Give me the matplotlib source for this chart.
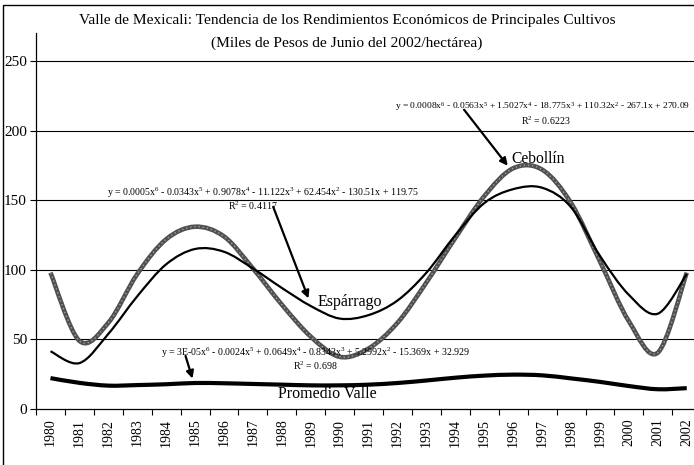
import matplotlib
matplotlib.use("Agg")
import matplotlib.pyplot as plt
from matplotlib.patches import Rectangle, PathPatch
from matplotlib.path import Path

plt.rcParams['font.family'] = 'Liberation Serif'
plt.rcParams['mathtext.fontset'] = 'custom'
plt.rcParams['mathtext.rm'] = 'Liberation Serif'
plt.rcParams['mathtext.it'] = 'Liberation Serif:italic'

# datos (miles de pesos de junio 2002 / ha)
anios = list(range(1980, 2003))
cebollin = [98, 49, 62, 97, 122, 131, 124, 101, 75, 52, 37.5, 43.5,
            62, 91, 123, 153, 173, 172, 148, 106, 63, 40.5, 98]
esparrago = [41.5, 33, 54, 81, 104, 115, 113, 101, 87, 74, 65, 67.5,
             78, 98, 125, 148, 158, 159, 145, 110, 82, 68.5, 97]
promedio = [22.2, 18.8, 16.8, 17.2, 17.8, 18.7, 18.5, 18, 17.5, 17, 17, 17.5,
            18.7, 20.5, 22.5, 24, 24.7, 24.2, 22, 19.5, 16.5, 14.2, 15]

eq_ceb = "y = 0.0008x$^6$ - 0.0563x$^5$ + 1.5027x$^4$ - 18.775x$^3$ + 110.32x$^2$ - 267.1x + 270.09"
eq_esp = "y = 0.0005x$^6$ - 0.0343x$^5$ + 0.9078x$^4$ - 11.122x$^3$ + 62.454x$^2$ - 130.51x + 119.75"
eq_pro = "y = 3E-05x$^6$ - 0.0024x$^5$ + 0.0649x$^4$ - 0.8343x$^3$ + 5.2992x$^2$ - 15.369x + 32.929"
r2_ceb = "R$^2$ = 0.6223"
r2_esp = "R$^2$ = 0.4117"
r2_pro = "R$^2$ = 0.698"


# linea suavizada como en Excel (bezier por los puntos)
def curva_suave(xs, ys):
    n = len(xs)
    verts = [(xs[0], ys[0])]
    codes = [Path.MOVETO]
    for i in range(n - 1):
        a = max(i - 1, 0)
        b = min(i + 2, n - 1)
        c1 = (xs[i] + (xs[i + 1] - xs[a]) / 6, ys[i] + (ys[i + 1] - ys[a]) / 6)
        c2 = (xs[i + 1] - (xs[b] - xs[i]) / 6, ys[i + 1] - (ys[b] - ys[i]) / 6)
        verts += [c1, c2, (xs[i + 1], ys[i + 1])]
        codes += [Path.CURVE4] * 3
    return Path(verts, codes)


x = list(range(len(anios)))

fig = plt.figure(figsize=(6.94, 4.65), dpi=100)
ax = fig.add_axes([0.0519, 0.1204, 0.9585, 0.808])

# cuadro exterior
fig.patches.append(Rectangle((0.004, -0.1), 1.2, 1.0892, transform=fig.transFigure,
                             fill=False, edgecolor='black', lw=1))

ax.add_patch(PathPatch(curva_suave(x, cebollin), fill=False, edgecolor='#505050',
                       lw=3.3, capstyle='butt', zorder=3))
ax.add_patch(PathPatch(curva_suave(x, cebollin), fill=False, edgecolor='#a0a0a0',
                       lw=1.0, linestyle=(0, (1, 2)), zorder=4))
ax.add_patch(PathPatch(curva_suave(x, esparrago), fill=False, edgecolor='black',
                       lw=1.6, zorder=5))
ax.add_patch(PathPatch(curva_suave(x, promedio), fill=False, edgecolor='black',
                       lw=3.0, zorder=5))

ax.set_xlim(-0.5, 22.5)
ax.set_ylim(0, 270)
ax.set_yticks([0, 50, 100, 150, 200, 250])
ax.set_yticklabels(['0', '50', '100', '150', '200', '250'], fontsize=11)
for v in [50, 100, 150, 200, 250]:
    ax.axhline(v, color='black', lw=0.8, zorder=1)

ax.set_xticks([i - 0.5 for i in range(24)])
ax.set_xticklabels([])
ax.set_xticks(x, minor=True)
ax.set_xticklabels([str(a) for a in anios], minor=True, rotation=90, fontsize=10)
ax.tick_params(axis='x', which='major', direction='out', length=4, width=0.8)
ax.tick_params(axis='x', which='minor', length=0, pad=7)
ax.tick_params(axis='y', direction='out', length=4.5, width=0.8, pad=2)

for s in ['top', 'right']:
    ax.spines[s].set_visible(False)
ax.spines['left'].set_linewidth(0.9)
ax.spines['bottom'].set_linewidth(0.9)

fig.text(0.5, 0.9555, "Valle de Mexicali: Tendencia de los Rendimientos Económicos de Principales Cultivos",
         ha='center', va='center', fontsize=11.1)
fig.text(0.5, 0.9069, "(Miles de Pesos de Junio del 2002/hectárea)",
         ha='center', va='center', fontsize=11.1)

fs_eq = 7.1
ax.text(11.91, 217.6, eq_ceb, fontsize=6.8, ha='left', va='center')
ax.text(17.12, 207.4, r2_ceb, fontsize=fs_eq, ha='center', va='center')
ax.text(1.95, 155.6, eq_esp, fontsize=fs_eq, ha='left', va='center')
ax.text(7.0, 146, r2_esp, fontsize=fs_eq, ha='center', va='center')
ax.text(3.81, 40.5, eq_pro, fontsize=fs_eq, ha='left', va='center', zorder=6)
ax.text(9.15, 30.9, r2_pro, fontsize=fs_eq, ha='center', va='center')

ax.text(15.92, 179.9, "Cebollín", fontsize=11.2, ha='left', va='center')
ax.text(9.23, 77.2, "Espárrago", fontsize=11.5, ha='left', va='center', zorder=6)
ax.text(7.88, 10.8, "Promedio Valle", fontsize=11.5, ha='left', va='center')

flecha = dict(arrowstyle='-|>', color='black', lw=1.6, mutation_scale=11, shrinkA=0, shrinkB=0)
ax.annotate("", xy=(15.81, 174.8), xytext=(14.30, 215.1), arrowprops=flecha)
ax.annotate("", xy=(8.92, 79.5), xytext=(7.70, 145.3), arrowprops=flecha)
ax.annotate("", xy=(4.91, 21.9), xytext=(4.67, 38.1), arrowprops=flecha)

fig.savefig("out.png", dpi=100)
